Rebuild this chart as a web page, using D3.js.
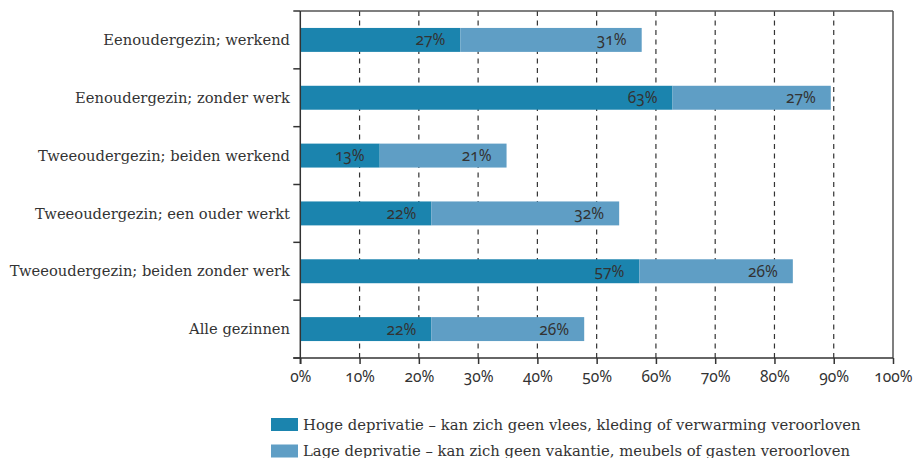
<!DOCTYPE html>
<html>
<head>
<meta charset="utf-8">
<script src="https://cdn.jsdelivr.net/npm/d3@7"></script>
<style>
  html, body { margin: 0; padding: 0; background: #fff; }
  svg { display: block; }
  .cat { font-family: "DejaVu Serif", serif; font-size: 14.7px; fill: #333; }
  .num { font-family: "Noto Sans", sans-serif; font-size: 15.5px; fill: #333; font-variant-numeric: oldstyle-nums; font-feature-settings: "onum"; }
  .leg { font-family: "DejaVu Serif", serif; font-size: 14.8px; fill: #333; }
</style>
</head>
<body>
<svg id="chart" width="913" height="458"></svg>
<script>
const categories = [
  "Eenoudergezin; werkend",
  "Eenoudergezin; zonder werk",
  "Tweeoudergezin; beiden werkend",
  "Tweeoudergezin; een ouder werkt",
  "Tweeoudergezin; beiden zonder werk",
  "Alle gezinnen"
];
const hoge = [27.0, 62.8, 13.4, 22.1, 57.2, 22.1];
const lage = [30.6, 26.7, 21.4, 31.7, 25.9, 25.8];
const seriesNames = [
  "Hoge deprivatie \u2013 kan zich geen vlees, kleding of verwarming veroorloven",
  "Lage deprivatie \u2013 kan zich geen vakantie, meubels of gasten veroorloven"
];
const seriesColors = ["#1b84ae", "#5f9ec5"];
const xTicks = [0, 10, 20, 30, 40, 50, 60, 70, 80, 90, 100];

const svg = d3.select("#chart");
const pLeft = 300.3, pRight = 893, pTop = 11, pBottom = 358;

const x = d3.scaleLinear().domain([0, 100]).range([pLeft, pRight]);
const y = d3.scaleBand().domain(categories).range([pTop, pBottom]).paddingInner(0.586).paddingOuter(0.293);
const fmt = v => Math.round(v) + "%";

// gridlines
svg.append("g").selectAll("line").data(xTicks.filter(d => d > 0 && d < 100)).join("line")
  .attr("x1", d => x(d)).attr("x2", d => x(d))
  .attr("y1", pTop).attr("y2", pBottom)
  .attr("stroke", "#333").attr("stroke-width", 1.2).attr("stroke-dasharray", "5,4.5");

// bars
const rows = categories.map((c, i) => ({ c, a: hoge[i], b: lage[i] }));
const g = svg.append("g");
rows.forEach(r => {
  g.append("rect").attr("x", x(0)).attr("y", y(r.c)).attr("width", x(r.a) - x(0)).attr("height", y.bandwidth()).attr("fill", seriesColors[0]);
  g.append("rect").attr("x", x(r.a)).attr("y", y(r.c)).attr("width", x(r.a + r.b) - x(r.a)).attr("height", y.bandwidth()).attr("fill", seriesColors[1]);
  g.append("text").attr("class", "num").attr("x", x(r.a) - 15).attr("y", y(r.c) + y.bandwidth() / 2).attr("dy", "0.35em").attr("text-anchor", "end").text(fmt(r.a));
  g.append("text").attr("class", "num").attr("x", x(r.a + r.b) - 15).attr("y", y(r.c) + y.bandwidth() / 2).attr("dy", "0.35em").attr("text-anchor", "end").text(fmt(r.b));
});

// frame: top and right
svg.append("line").attr("x1", pLeft).attr("x2", pRight).attr("y1", pTop).attr("y2", pTop).attr("stroke", "#555").attr("stroke-width", 1.5);
svg.append("line").attr("x1", pRight).attr("x2", pRight).attr("y1", pTop).attr("y2", pBottom).attr("stroke", "#555").attr("stroke-width", 1.5);

// y axis with boundary ticks
const yAxisG = svg.append("g");
yAxisG.append("line").attr("x1", pLeft).attr("x2", pLeft).attr("y1", pTop).attr("y2", pBottom + 6).attr("stroke", "#333").attr("stroke-width", 1.5);
const bounds = [pTop].concat(categories.map(c => y(c) + y.bandwidth() + y.step() * y.paddingInner() / 2));
bounds[bounds.length - 1] = pBottom;
yAxisG.selectAll("line.t").data(bounds).join("line").attr("class", "t")
  .attr("x1", pLeft - 7).attr("x2", pLeft).attr("y1", d => d).attr("y2", d => d)
  .attr("stroke", "#333").attr("stroke-width", 1.5);
yAxisG.selectAll("text").data(categories).join("text").attr("class", "cat")
  .attr("x", 290).attr("y", d => y(d) + y.bandwidth() / 2).attr("dy", "0.35em").attr("text-anchor", "end").text(d => d);

// x axis
const xAxis = d3.axisBottom(x).tickValues(xTicks).tickFormat(d => d + "%").tickSize(6).tickPadding(7);
const xg = svg.append("g").attr("transform", `translate(0,${pBottom})`).call(xAxis);
xg.attr("font-family", null).attr("font-size", null);
xg.select(".domain").attr("stroke", "#333").attr("stroke-width", 1.5).attr("d", `M${pLeft - 7},0H${pRight}`);
xg.selectAll(".tick line").attr("stroke", "#333").attr("stroke-width", 1.5);
xg.selectAll(".tick text").attr("class", "num").attr("fill", null);

// legend
const lg = svg.append("g");
seriesNames.forEach((s, i) => {
  const yy = 418 + i * 26.5;
  lg.append("rect").attr("x", 271).attr("y", yy).attr("width", 27).attr("height", 13).attr("fill", seriesColors[i]);
  lg.append("text").attr("class", "leg").attr("x", 303).attr("y", yy + 6.5).attr("dy", "0.35em").text(s);
});
</script>
</body>
</html>
